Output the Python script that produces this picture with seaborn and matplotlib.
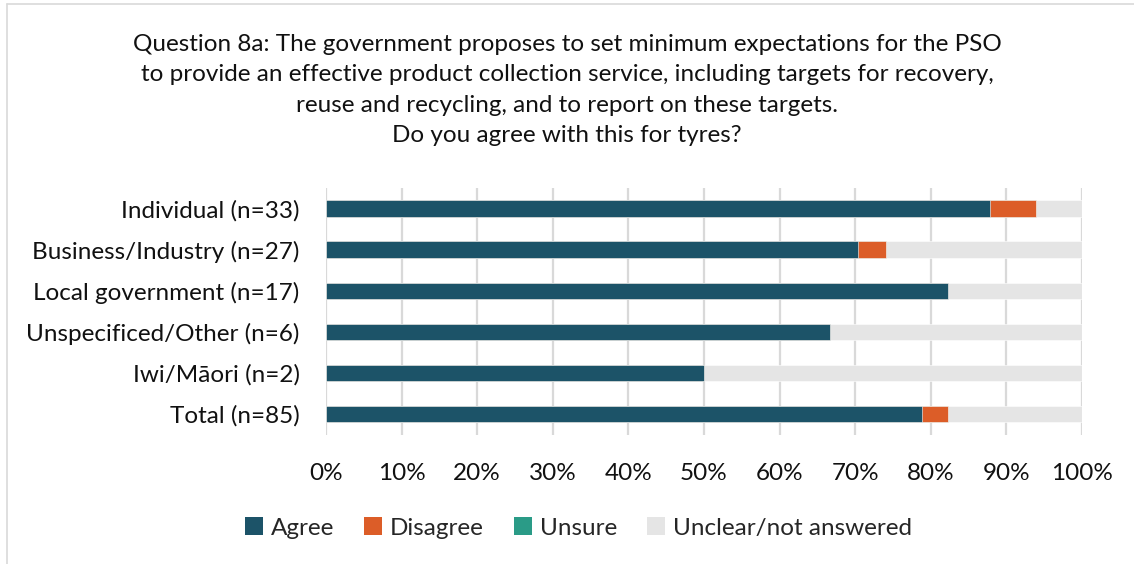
import numpy as np
import pandas as pd
import matplotlib
matplotlib.use("Agg")
import matplotlib.pyplot as plt
from matplotlib.patches import Patch
from matplotlib.lines import Line2D
from matplotlib.ticker import PercentFormatter
import seaborn as sns

# Respondent groups and counts of responses
groups = ["Individual (n=33)", "Business/Industry (n=27)", "Local government (n=17)",
          "Unspecificed/Other (n=6)", "Iwi/M\u0101ori (n=2)", "Total (n=85)"]
n_resp = [33, 27, 17, 6, 2, 85]
agree = [29, 19, 14, 4, 1, 67]
disagree = [2, 1, 0, 0, 0, 3]
unsure = [0, 0, 0, 0, 0, 0]

series = ["Agree", "Disagree", "Unsure", "Unclear/not answered"]
colors = ["#1c5368", "#dc5d28", "#2a9b87", "#e5e5e5"]
xticks = [0, 10, 20, 30, 40, 50, 60, 70, 80, 90, 100]

title = ("Question 8a: The government proposes to set minimum expectations for the PSO\n"
         "to provide an effective product collection service, including targets for recovery,\n"
         "reuse and recycling, and to report on these targets.\n"
         "Do you agree with this for tyres?")

sns.set_theme(style="white")
plt.rcParams["font.family"] = ["Lato", "DejaVu Sans"]

n = np.array(n_resp, dtype=float)
pct_agree = np.array(agree) / n * 100
pct_dis = np.array(disagree) / n * 100
pct_uns = np.array(unsure) / n * 100
pct_unclear = 100 - pct_agree - pct_dis - pct_uns

df = pd.DataFrame({
    "group": groups,
    "Agree": pct_agree,
    "Disagree": pct_agree + pct_dis,
    "Unsure": pct_agree + pct_dis + pct_uns,
    "Unclear/not answered": pct_agree + pct_dis + pct_uns + pct_unclear,
})

fig = plt.figure(figsize=(11.34, 5.64), dpi=100)
ax = fig.add_axes([0.2875, 0.229, 0.954 - 0.2875, 0.667 - 0.229])

# stacked bars: draw cumulative totals from the outermost segment inward
for name, col in reversed(list(zip(series, colors))):
    sns.barplot(data=df, x=name, y="group", color=col, width=0.4, ax=ax,
                saturation=1, edgecolor="white", linewidth=0.4, zorder=3)

ax.set_xlim(0, 100)
ax.set_ylim(5.5, -0.5)
ax.set_xticks(xticks)
ax.xaxis.set_major_formatter(PercentFormatter(decimals=0))
ax.grid(axis="x", color="#d9d9d9", linewidth=1.6, zorder=0)
ax.grid(axis="y", visible=False)
for s in ax.spines.values():
    s.set_visible(False)
ax.set_xlabel("")
ax.set_ylabel("")
ax.tick_params(axis="x", labelsize=17.5, pad=20, length=0, colors="#111111")
ax.tick_params(axis="y", labelsize=17.5, pad=19, length=0, colors="#111111")

fig.text(0.5, 0.94, title, ha="center", va="top", fontsize=17.5,
         linespacing=1.56, color="#111111")

handles = [Patch(facecolor=c, edgecolor="none") for c in colors]
fig.legend(handles, series, loc="center", bbox_to_anchor=(0.51, 0.064), ncol=4,
           frameon=False, fontsize=17.5, handlelength=0.75, handleheight=0.75,
           handletextpad=0.3, columnspacing=1.25)

# thin outer frame
fig.add_artist(Line2D([0.0066, 1.0], [0.9925, 0.9925], transform=fig.transFigure,
                      color="#d9d9d9", linewidth=1.2))
fig.add_artist(Line2D([0.0066, 0.0066], [0.0, 0.9925], transform=fig.transFigure,
                      color="#d9d9d9", linewidth=1.2))

fig.savefig("out.png", dpi=100, facecolor="white")
